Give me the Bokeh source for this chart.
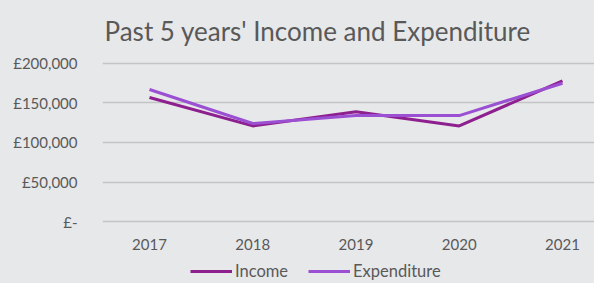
from bokeh.plotting import figure
from bokeh.models import FixedTicker, Range1d, Legend, LegendItem
from bokeh.layouts import column
from bokeh.embed import file_html
from bokeh.resources import INLINE

years = [2017, 2018, 2019, 2020, 2021]
income = [157000, 121000, 139000, 121000, 178000]
expenditure = [167000, 124000, 134000, 134000, 175000]
y_ticks = [0, 50000, 100000, 150000, 200000]
y_labels = ["£-", "£50,000", "£100,000", "£150,000", "£200,000"]
x_labels = ["2017", "2018", "2019", "2020", "2021"]
series_names = ["Income", "Expenditure"]
series_values = [income, expenditure]
series_colors = ["#8e1f8e", "#9b4fd3"]

BG = "#e7e8ea"
TXT = "#595959"
FONT = "Lato"
LEFT = 102
FW = 492

p = figure(frame_width=FW, frame_height=164, output_backend="svg", toolbar_location=None,
           x_range=Range1d(2016.545, 2021.31), y_range=Range1d(-2500, 205000),
           min_border_left=LEFT, min_border_right=0, min_border_top=0, min_border_bottom=34)
p.background_fill_color = BG
p.border_fill_color = BG
p.outline_line_color = None

p.title.text = "Past 5 years' Income and Expenditure"
p.title.align = "left"
p.title.offset = 2
p.title.text_font = FONT
p.title.text_font_size = "26px"
p.title.text_font_style = "normal"
p.title.text_color = TXT
p.title.standoff = 25

for vals, col in zip(series_values, series_colors):
    p.line(years, vals, line_color=col, line_width=3)

p.yaxis.ticker = FixedTicker(ticks=y_ticks)
p.yaxis.major_label_overrides = {t: l for t, l in zip(y_ticks, y_labels)}
p.xaxis.ticker = FixedTicker(ticks=years)
p.xaxis.major_label_overrides = {t: l for t, l in zip(years, x_labels)}
for ax in (p.xaxis, p.yaxis):
    ax.axis_line_color = None
    ax.major_tick_line_color = None
    ax.minor_tick_line_color = None
    ax.major_label_text_font = FONT
    ax.major_label_text_font_size = "15px"
    ax.major_label_text_color = TXT
p.yaxis.major_label_standoff = 19
p.xaxis.major_label_standoff = 9

p.xgrid.grid_line_color = None
p.ygrid.grid_line_color = "#c4c4c4"
p.ygrid.grid_line_width = 1.5

# legend strip below the chart (same borders so frames align in the column)
p2 = figure(frame_width=FW, frame_height=26, output_backend="svg", toolbar_location=None,
            x_range=Range1d(0, 1), y_range=Range1d(0, 1),
            x_axis_location=None, y_axis_location=None,
            min_border_left=LEFT, min_border_right=0, min_border_top=0, min_border_bottom=0,
            styles={"background-color": BG})
p2.background_fill_color = BG
p2.border_fill_color = BG
p2.outline_line_color = None
p2.xgrid.visible = False
p2.ygrid.visible = False
items = []
for name, vals, col in zip(series_names, series_values, series_colors):
    r = p2.line(years, vals, line_color=col, line_width=3)
    items.append(LegendItem(label=name, renderers=[r]))
legend = Legend(items=items, orientation="horizontal", location=(88, 2))
legend.background_fill_alpha = 0
legend.border_line_color = None
legend.label_text_font = FONT
legend.label_text_font_size = "16.5px"
legend.label_text_color = TXT
legend.glyph_width = 42
legend.label_standoff = 3
legend.spacing = 20
legend.padding = 2
legend.margin = 0
p2.add_layout(legend)

layout = column(p, p2, spacing=0, styles={"background-color": BG})
open("out.html", "w").write(file_html(layout, INLINE))
